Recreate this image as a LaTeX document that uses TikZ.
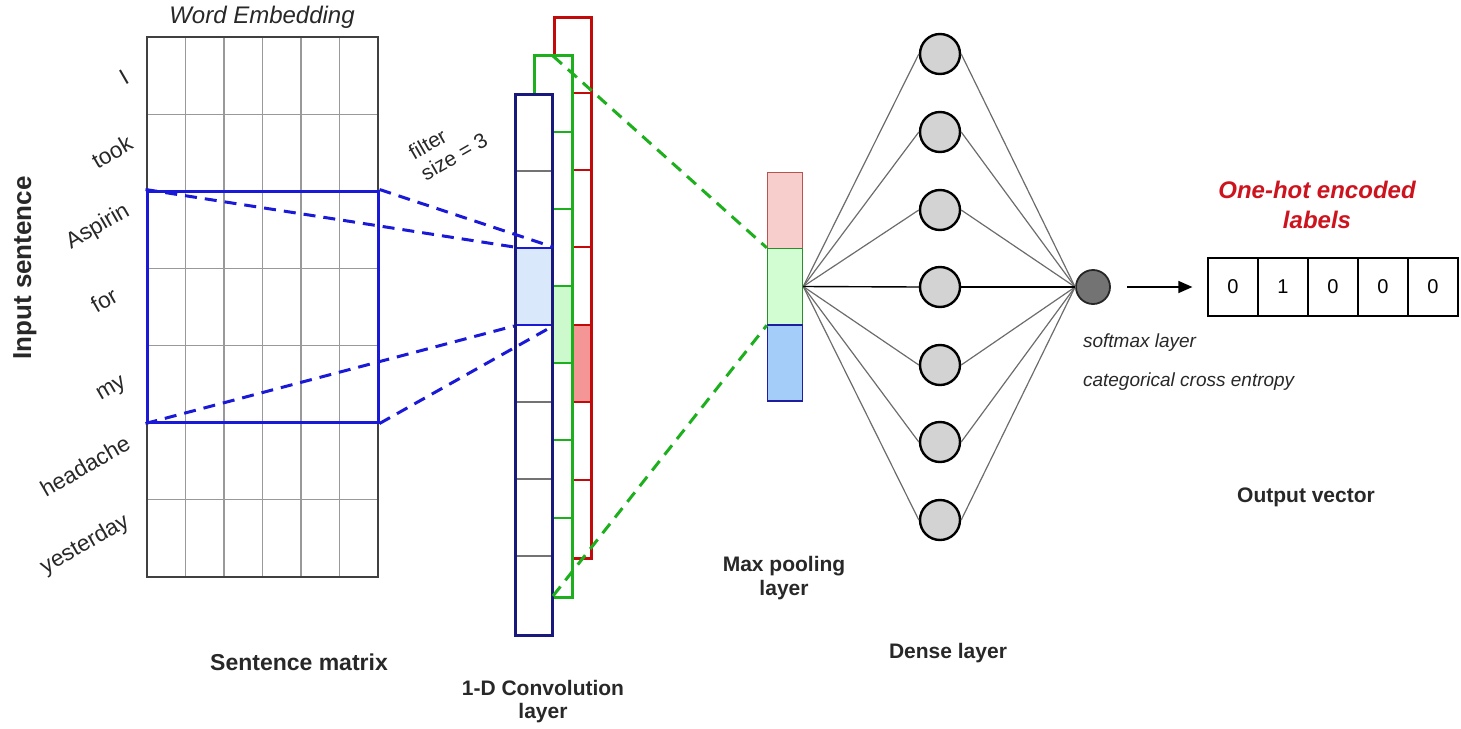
\documentclass[tikz,border=0pt]{standalone}
\usepackage{fontspec}
\setmainfont{Liberation Sans}
\usetikzlibrary{arrows.meta}
\definecolor{selblue}{RGB}{25,25,215}
\definecolor{navyc}{RGB}{25,25,125}
\definecolor{greenc}{RGB}{30,175,30}
\definecolor{redc}{RGB}{195,10,10}
\definecolor{cellblue}{RGB}{218,232,252}
\definecolor{cellgreen}{RGB}{205,250,205}
\definecolor{cellred}{RGB}{245,150,150}
\definecolor{mpred}{RGB}{248,206,204}
\definecolor{mpredb}{RGB}{184,84,80}
\definecolor{mpgreen}{RGB}{210,252,210}
\definecolor{mpgreenb}{RGB}{45,140,45}
\definecolor{mpblue}{RGB}{165,205,250}
\definecolor{mpblueb}{RGB}{30,30,160}
\definecolor{neuron}{RGB}{211,211,211}
\definecolor{smgray}{RGB}{115,115,115}
\definecolor{labred}{RGB}{205,20,30}
\definecolor{txtgray}{RGB}{40,40,40}
\begin{document}
\begin{tikzpicture}[x=0.5pt,y=-0.5pt,
  gridline/.style={draw=gray!80, line width=0.6pt},
  selbox/.style={draw=selblue, line width=1.5pt, minimum width=115.5pt, minimum height=115.5pt, inner sep=0pt},
  bdash/.style={draw=selblue, line width=1.5pt, dash pattern=on 6pt off 4pt},
  gdash/.style={draw=greenc, line width=1.5pt, dash pattern=on 6pt off 4pt},
  convcell/.style={minimum width=18.5pt, minimum height=38.5pt, inner sep=0pt},
  mpcell/.style={minimum width=17.5pt, minimum height=38pt, inner sep=0pt, line width=0.7pt},
  neur/.style={circle, draw=black, line width=1.2pt, fill=neuron, minimum size=20pt, inner sep=0pt},
  dline/.style={draw=gray!85!black, line width=0.6pt},
  outcell/.style={draw=black, line width=0.6pt, minimum width=25pt, minimum height=29pt, inner sep=0pt, font=\fontsize{10}{12}\selectfont},
  bold11/.style={font=\fontsize{10.5}{12.5}\selectfont\bfseries, text=txtgray, align=center},
  word/.style={font=\fontsize{11.3}{12}\selectfont, text=txtgray, rotate=30, inner sep=0.5pt}
]
\useasboundingbox (0,0) rectangle (1461,728);

% ---------------- Sentence matrix ----------------
\foreach \i in {1,...,5} \draw[gridline] ({147+\i*38.5},37) -- ++(0,540);
\foreach \i in {1,...,6} \draw[gridline] (147,{37+\i*77.143}) -- ++(231,0);
\draw[draw=black!75, line width=0.8pt] (147,37) rectangle (378,577);
\node[selbox] (sel) at (262.5,306.5) {};

\node[font=\fontsize{12}{14}\selectfont\itshape, text=txtgray] (we) at (262,17) {Word Embedding};
\node[font=\fontsize{13}{15}\selectfont\bfseries, text=txtgray, rotate=90, inner sep=0.5pt] (ins) at (25,268) {Input sentence};

\node[word] (w1) at (124,77) {I};
\node[word] (w2) at (112,152) {took};
\node[word] (w3) at (98,227) {Aspirin};
\node[word] (w4) at (104,300) {for};
\node[word] (w5) at (112,390) {my};
\node[word] (w6) at (85,466) {headache};
\node[word] (w7) at (85,545) {yesterday};

\node[bold11, font=\fontsize{11.5}{13.5}\selectfont\bfseries] (smat) at (299,662) {Sentence matrix};

% ---------------- Convolution columns ----------------
% red (back)
\fill[white] (554,17) rectangle (591,558);
\fill[cellred] (554,325) rectangle (591,402);
\foreach \y in {93,170,247,325,402,480} \draw[redc, line width=0.6pt] (554,\y) -- (591,\y);
\draw[redc, line width=1.5pt] (554,17) rectangle (591,558);
% green (middle)
\fill[white] (534,55) rectangle (572,597);
\fill[cellgreen] (534,286) rectangle (572,363);
\foreach \y in {132,209,286,363,440,518} \draw[greenc, line width=0.6pt] (534,\y) -- (572,\y);
\draw[greenc, line width=1.5pt] (534,55) rectangle (572,597);
% blue (front)
\fill[white] (515,94) rectangle (552,635);
\foreach \y in {171,402,479,556} \draw[gray!90!black, line width=0.6pt] (515,\y) -- (552,\y);
\node[convcell, fill=cellblue, draw=selblue, line width=1pt] (bc) at (533.5,286.5) {};
\draw[navyc, line width=1.5pt] (515,94) rectangle (552,635);
\coordinate (gtop) at (553,56);
\coordinate (gbot) at (553,596);

\node[font=\fontsize{10.5}{12}\selectfont, text=txtgray, rotate=30, align=left, inner sep=0.5pt] (filt) at (448,146) {filter\\size = 3};
\node[bold11] (convl) at (543,702) {1-D Convolution\\[-1pt]layer};

% dashed blue projections
\draw[bdash] (sel.north east) -- (bc.north east);
\draw[bdash] (sel.north west) -- (bc.north west);
\draw[bdash] (sel.south west) -- (bc.south west);
\draw[bdash] (sel.south east) -- (bc.south east);

% ---------------- Max pooling ----------------
\node[mpcell, fill=mpred, draw=mpredb] (mpR) at (785,210.5) {};
\node[mpcell, fill=mpgreen, draw=mpgreenb] (mpG) at (785,286.5) {};
\node[mpcell, fill=mpblue, draw=mpblueb] (mpB) at (785,363) {};
\node[bold11] (mpl) at (784,578) {Max pooling\\[-0.5pt]layer};

\draw[gdash] (gtop) -- (mpG.north west);
\draw[gdash] (gbot) -- (mpG.south west);

% ---------------- Dense layer ----------------
\foreach \i/\y in {1/54,2/132,3/210,4/287,5/365,6/442,7/520}
  \node[neur] (d\i) at (940,\y) {};
\node[circle, draw=black!85, line width=0.9pt, fill=smgray, minimum size=17pt, inner sep=0pt] (sm) at (1093,287) {};
\foreach \i in {1,2,3,5,6,7} {
  \draw[dline] (mpG.east) -- (d\i.west);
  \draw[dline] (d\i.east) -- (sm.west);
}
\draw[black, line width=0.7pt] (mpG.east) -- (d4.west);
\draw[black, line width=0.7pt] (d4.east) -- (sm.west);
\node[bold11] (dl) at (948,653) {Dense layer};

\node[font=\fontsize{9.5}{11}\selectfont\itshape, text=txtgray, anchor=west] (sml) at (1076,343) {softmax layer};
\node[font=\fontsize{9.5}{11}\selectfont\itshape, text=txtgray, anchor=west] (cce) at (1076,382) {categorical cross entropy};

% ---------------- Output ----------------
\foreach \i/\v in {1/0,2/1,3/0,4/0,5/0}
  \node[outcell] (o\i) at ({1183+\i*50},287) {\v};
\draw[-{Triangle[length=7pt,width=6pt]}, line width=0.7pt, shorten <=8pt, shorten >=7.5pt] (sm.east) -- (o1.west);

\node[font=\fontsize{12}{15}\selectfont\bfseries\itshape, text=labred, align=center] (oh) at (1317,205) {One-hot encoded\\labels};
\node[bold11] (ov) at (1306,497) {Output vector};
\end{tikzpicture}
\end{document}
